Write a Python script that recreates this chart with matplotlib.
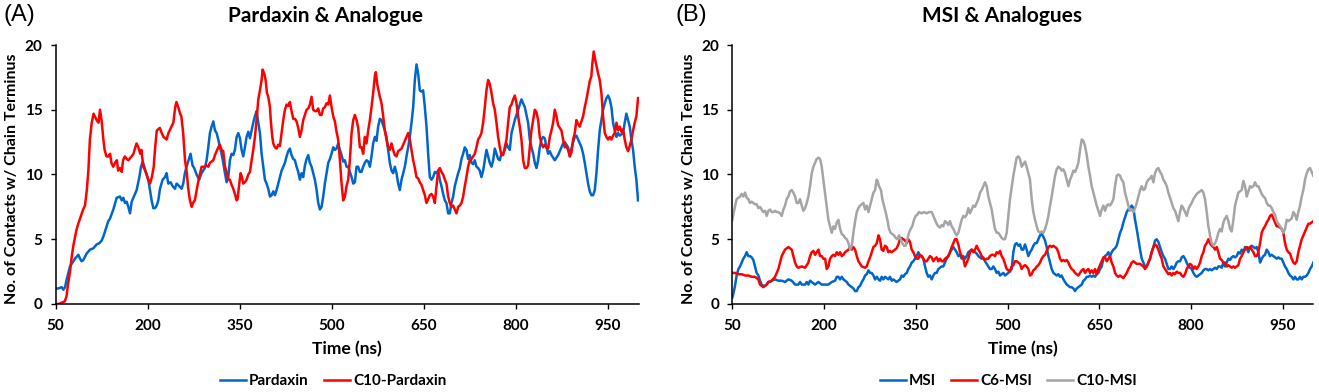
import matplotlib
matplotlib.use("Agg")
import matplotlib.pyplot as plt

plt.rcParams['font.family'] = ['Lato', 'DejaVu Sans']

# (time in ns, number of contacts)
pardaxin = [
    (50, 1.2), (54.6, 1.2), (60, 1.3), (62.8, 1.1), (65.5, 1.3), (68.2, 1.9), (70.9, 2.4), (73.6, 2.9),
    (76.3, 3.1), (81.8, 3.5), (87.2, 3.8), (89.9, 3.5), (92.6, 3.3), (95.3, 3.4), (100.8, 3.9), (106.2, 4.2),
    (111.6, 4.3), (117, 4.6), (121.4, 4.7), (125.2, 4.9), (127.9, 5.2), (130.6, 5.6), (133.3, 6), (136, 6.4),
    (138.8, 6.6), (144.2, 7.3), (149.6, 8.2), (155, 8.3), (157.8, 8), (160.5, 8.2), (163.2, 7.8), (165.9, 7.9),
    (168.6, 7.5), (171.4, 7), (174.1, 7.9), (176.8, 8.2), (182.2, 8.8), (186.6, 9.8), (189.3, 10.6), (192, 11),
    (194.7, 10.6), (197.4, 10.1), (201.2, 9.6), (203.9, 8.8), (206.6, 8), (209.3, 7.4), (212, 7.4), (214.8, 7.6),
    (217.5, 8), (220.2, 8.9), (224.5, 9.6), (228.3, 9.8), (231, 10.1), (233.7, 9.3), (237.5, 9.4), (240.8, 9.1),
    (244.6, 8.9), (247.3, 9.3), (251.6, 9.1), (255.4, 8.9), (258.1, 9.3), (260.8, 10.1), (263.5, 10.6), (267.3, 11.2),
    (270, 11.6), (273.3, 10.7), (276, 10.5), (279.8, 10), (284.1, 9.6), (287.9, 10.1), (293.3, 10.5), (296.2, 11.1),
    (298.9, 12.1), (301.6, 13.2), (304.3, 13.7), (307.1, 14.1), (309.8, 13.4), (312.5, 13.2), (315.2, 12.7), (317.9, 12.1),
    (320.6, 11.6), (323.3, 10.9), (326.1, 10.1), (328.8, 9.4), (331.5, 9.8), (334.2, 11.1), (336.9, 11.6), (339.6, 11.5),
    (342.3, 11.9), (345.1, 12.9), (347.8, 13.2), (350.5, 12.8), (353.2, 11.9), (355.9, 11.4), (358.6, 12.1), (361.3, 12.9),
    (364.1, 13.3), (366.8, 12.8), (369.5, 13.4), (372.2, 14), (374.9, 14.5), (377.6, 14.9), (380.4, 14), (383.1, 13.2),
    (385.8, 11.6), (388.5, 10.6), (391.2, 9.6), (393.9, 9.3), (396.6, 8.9), (399.4, 8.3), (402.1, 8.4), (404.8, 8.7),
    (407.5, 8.4), (410.2, 8.8), (412.9, 9.3), (415.6, 9.8), (418.4, 10.3), (421.1, 10.6), (423.8, 10.9), (426.5, 11.4),
    (429.2, 11.8), (431.9, 12), (434.6, 11.5), (437.4, 11.2), (440.1, 11.1), (442.8, 10.6), (445.5, 10.2), (448.2, 9.6),
    (450.9, 10.1), (453.6, 9.8), (456.4, 10.7), (459.1, 11.2), (461.8, 11.5), (464.5, 10.9), (467.2, 10.6), (469.9, 10.1),
    (472.6, 9.6), (475.4, 8.8), (478.1, 7.8), (480.8, 7.3), (483.5, 7.5), (486.2, 8.3), (488.9, 9.3), (491.6, 10.1),
    (494.4, 10.9), (497.1, 11.2), (499.8, 11.6), (502.5, 12.1), (505.2, 11.9), (507.9, 12), (510.6, 12.4), (513.4, 11.9),
    (516.1, 11.5), (518.8, 11), (521.5, 11.1), (524.2, 10.6), (526.9, 10.6), (529.6, 10.2), (532.4, 9.8), (535.1, 9.3),
    (537.8, 9.4), (540.5, 10.6), (543.2, 10.6), (545.9, 10.2), (548.6, 10.2), (551.3, 10.6), (554, 10.9), (556.7, 11.1),
    (559.5, 11), (562.2, 10.6), (564.9, 11.4), (567.6, 12.4), (570.3, 12.9), (573, 12.6), (575.7, 13.7), (578.5, 14.3),
    (581.2, 14.2), (583.9, 13.8), (586.6, 13.4), (589.3, 12.9), (592, 11.9), (594.7, 10.9), (597.5, 10.3), (600.2, 10.1),
    (602.9, 10.6), (605.6, 10.1), (608.3, 9.3), (611, 8.8), (613.8, 9.6), (616.5, 10.1), (619.2, 10.6), (621.9, 11.4),
    (624.6, 12.1), (627.3, 12.9), (630.1, 14), (632.8, 15.2), (635.5, 17.3), (638.2, 18.5), (640.9, 17.8), (643.6, 16.5),
    (646.3, 16.4), (649, 16.5), (651.8, 15.2), (654.5, 13.7), (657.2, 11.6), (659.9, 9.8), (662.6, 9.6), (665.3, 9.8),
    (668.1, 10.2), (670.8, 10.1), (673.5, 10.3), (676.2, 9.6), (678.9, 9.1), (681.6, 8.5), (684.4, 8), (687, 7.8),
    (689.8, 7), (692.5, 7), (695.2, 7.8), (697.9, 8.3), (700.6, 9.1), (703.3, 9.6), (706.1, 10.1), (708.8, 10.5),
    (711.5, 11.2), (714.2, 11.6), (716.9, 12.1), (719.6, 11.9), (722.3, 11.2), (725, 11.5), (727.8, 10.9), (730.5, 10.8),
    (733.2, 11.1), (735.9, 10.6), (738.6, 10.5), (741.3, 10.3), (744, 9.8), (746.8, 10.3), (749.5, 11.1), (752.2, 11.9),
    (754.9, 11.4), (757.6, 10.9), (760.4, 10.6), (763.1, 11.1), (765.8, 12), (768.5, 11.6), (771.2, 11.2), (773.9, 11.1),
    (776.6, 11.6), (779.3, 11.6), (782.1, 11.9), (784.8, 12.4), (787.5, 12.1), (790.2, 11.9), (793, 13.2), (795.7, 13.7),
    (798.4, 14.2), (801.1, 14.6), (803.8, 15), (806.5, 15.4), (809.2, 15.8), (812, 15.5), (814.7, 15.2), (817.4, 14.6),
    (820.1, 14), (822.8, 12.7), (825.5, 12.1), (828.3, 11.6), (831, 10.9), (833.7, 10.5), (836.4, 11.1), (839.1, 12.1),
    (841.8, 12.7), (844.5, 12.9), (847.2, 12.8), (850, 12.1), (852.7, 11.6), (855.4, 11.8), (858.1, 11.5), (860.8, 11.3),
    (863.5, 11.1), (866.3, 11.3), (869, 11.5), (871.7, 11.8), (874.4, 12.1), (877.1, 12.4), (879.8, 12.5), (882.5, 12.3),
    (885.2, 12.1), (888, 11.4), (890.7, 12), (893.4, 12.5), (896.1, 12.9), (898.8, 13), (901.5, 12.7), (904.2, 12.4),
    (907, 12.1), (909.7, 11.6), (912.4, 10.9), (915.1, 10.1), (917.8, 9.3), (920.5, 8.7), (923.2, 8.4), (926, 8.4),
    (928.7, 8.8), (931.4, 10.1), (934.1, 11.9), (936.8, 13.4), (939.5, 14.2), (942.2, 15), (945, 15.5), (947.7, 15.9),
    (950.4, 16.1), (953.1, 15.8), (955.8, 15.2), (958.5, 14), (961.2, 13.4), (964, 12.9), (966.7, 13.2), (969.4, 13),
    (972.1, 13.1), (974.8, 13.2), (977.5, 14), (980.2, 14.7), (983, 14.2), (985.7, 13.7), (988.4, 12.7), (991.1, 11.9),
    (993.8, 10.6), (996.5, 9.6), (999.2, 8),
]

c10_pardaxin = [
    (50, 0), (55, 0), (60, 0.1), (65, 0.2), (68, 0.6), (70, 1.4), (73.6, 2.5), (76, 3.5), (79, 4.5), (84, 5.7),
    (87, 6.2), (90, 6.6), (95, 7.3), (98, 7.6), (101, 8.8), (103.5, 10.3), (106, 12.7), (109, 14), (112, 14.7),
    (114, 14.5), (117, 14.2), (120, 14), (122.5, 15), (125, 14.2), (128, 12.7), (130, 11.9), (133, 11.4), (136, 11.4),
    (139, 11.6), (141, 10.9), (144, 10.6), (147, 10.9), (150, 11.1), (152, 10.3), (155, 10.5), (158, 10.2), (160, 11.1),
    (163, 11.4), (166, 11.2), (169, 11.1), (172, 11.3), (174, 11.4), (177, 11.6), (180, 12.1), (182, 12.4), (185, 12.1),
    (188, 11.6), (190, 11.9), (193, 10.6), (198, 10.1), (201, 9.6), (204, 9.3), (207, 9.8), (210, 10.6), (212, 11.9),
    (215, 13.4), (220, 13.6), (223, 13.2), (226, 12.9), (231, 12.7), (234, 13.2), (236, 13.4), (239, 13.7), (242, 14),
    (245, 15.2), (247, 15.6), (250, 15.2), (253, 14.7), (255, 14.5), (258, 13.2), (261, 11.1), (264, 10.1), (266, 9),
    (269, 8), (272, 7.5), (274, 7.8), (277, 8), (280, 8.8), (284, 9.8), (288, 10.6), (293, 10.6), (296.2, 10.7),
    (298.9, 10.6), (301.6, 10.9), (304.3, 11), (307.1, 11.1), (309.8, 11.5), (312.5, 11.8), (315.2, 12.1), (317.9, 12.3),
    (320.6, 11.9), (323.3, 11.8), (326.1, 10.6), (328.8, 10.2), (331.5, 9.6), (334.2, 9.6), (336.9, 9.2), (339.6, 8.9),
    (342.3, 8.5), (345.1, 8), (346.7, 8.1), (348.9, 9.1), (351.6, 10.1), (353.2, 9.9), (355.9, 9.3), (358.6, 9.4),
    (361.3, 9.6), (364.1, 10), (366.8, 10.2), (369.5, 11.1), (372.2, 11.9), (374.9, 12.9), (377.6, 14.2), (380.4, 15.8),
    (383.1, 16.5), (385.8, 17.3), (387.4, 18.1), (390.1, 17.8), (392.3, 17.3), (394.5, 16.3), (396.6, 16), (399.4, 15.2),
    (401, 14), (403.2, 12.9), (404.8, 12.4), (407.5, 12.1), (410.2, 12), (412.9, 12.3), (415.6, 12.2), (418.4, 13.2),
    (421.1, 14.2), (423.8, 15), (426.5, 15.4), (429.2, 15.3), (431.9, 15.6), (434.6, 14.9), (437.4, 14.3), (440.1, 14.3),
    (442.8, 14.1), (445.5, 13.6), (448.2, 12.9), (450.9, 13.4), (453.6, 14.2), (456.4, 14.6), (459.1, 15), (461.8, 15.1),
    (464.5, 15.4), (467.2, 16), (469.9, 15), (472.6, 14.9), (475.4, 14.9), (478.1, 15.1), (480.8, 14.6), (483.5, 14.6),
    (486.2, 15.1), (488.9, 15.2), (491.6, 15.5), (494.4, 15.4), (497.1, 16.1), (499.8, 15.2), (502.5, 14.5), (505.2, 14.1),
    (507.9, 13.3), (510.6, 12.7), (513.4, 11.1), (516.1, 9.3), (518.8, 8), (521.5, 8.3), (524.2, 9.1), (526.9, 9.6),
    (529.6, 11.1), (532.4, 13.2), (535.1, 14.2), (537.8, 14.6), (540.5, 14.2), (543.2, 13.6), (545.9, 12.1), (548.6, 12.1),
    (551.3, 11.6), (554, 12.9), (556.7, 12.4), (559.5, 13.4), (562.2, 14.2), (564.9, 15.2), (567.6, 16.3), (570.3, 17.6),
    (572, 17.9), (574.1, 17), (576.3, 16.5), (578.5, 16), (581.2, 15.5), (583.9, 14.5), (586.6, 13.4), (589.3, 12.7),
    (592, 12.1), (594.7, 11.9), (597.5, 12.4), (600.2, 11.9), (602.9, 11.5), (605.6, 11.4), (608.3, 11.8), (611, 11.9),
    (613.8, 12), (616.5, 12.3), (619.2, 12.6), (621.9, 12.9), (624.6, 13.2), (627.3, 12.7), (630.1, 11.9), (632.8, 11.1),
    (635.5, 10.5), (638.2, 9.8), (640.9, 9.7), (643.6, 9.4), (646.3, 9.2), (649, 8.8), (651.8, 8.4), (654.5, 7.8),
    (657.2, 8.1), (659.9, 8.4), (662.6, 8.5), (665.3, 8.3), (668.1, 7.8), (670.8, 9.1), (673.5, 10.3), (676.2, 10.5),
    (678.9, 10.2), (681.6, 10), (684.4, 9.6), (687, 9.3), (689.8, 8.3), (692.5, 7.8), (695.2, 7.5), (697.9, 7.6),
    (700.6, 7.3), (703.3, 7), (706.1, 7.5), (708.8, 7.6), (711.5, 7.8), (714.2, 8.3), (716.9, 9.1), (719.6, 9.8),
    (722.3, 10.6), (725, 11.1), (727.8, 11.2), (730.5, 11.4), (733.2, 11.6), (735.9, 12.1), (738.6, 12.7), (741.3, 12.9),
    (744, 13.2), (746.8, 14), (749.5, 15.2), (752.2, 16.5), (754.9, 17.3), (757.6, 17), (760.4, 16.3), (763.1, 15.5),
    (765.8, 15), (768.5, 14), (771.2, 12.9), (774, 12.1), (776.6, 11.5), (779.3, 11.5), (782.1, 12.1), (784.8, 12.7),
    (787.5, 14), (790.2, 15.2), (793, 15.4), (795.7, 15.8), (798.4, 16.1), (801.1, 15.5), (803.8, 14.5), (806.5, 13.7),
    (809.2, 12.7), (812, 11.1), (814.7, 10.5), (817.4, 10.5), (820.1, 10.7), (822.8, 12.1), (825.5, 13.4), (828.3, 14.2),
    (831, 15), (833.7, 14.8), (836.4, 14.2), (839.1, 12.9), (841.8, 12.4), (844.5, 12.1), (847.2, 12.3), (850, 12.1),
    (852.7, 12), (855.4, 12.9), (858.1, 13.4), (860.8, 14), (863.5, 15), (866.3, 14.5), (869, 13.8), (871.7, 13.6),
    (874.4, 13.4), (877.1, 12.7), (879.8, 12.1), (882.5, 12.2), (885.2, 11.9), (888, 11.4), (890.7, 11.7), (893.4, 12.7),
    (896.1, 13.2), (898.8, 14.2), (901.5, 13.9), (904.2, 13.7), (907, 14.1), (909.7, 14.5), (912.4, 15.2), (915.1, 15.8),
    (917.8, 16.5), (920.5, 17.2), (923.2, 17.6), (924.8, 18.6), (927, 19.5), (929.7, 18.8), (931.9, 18.3), (934.1, 17.8),
    (936.8, 17.3), (939.5, 16.3), (942.2, 14.5), (945, 13.2), (947.7, 12.9), (950.4, 12.7), (953.1, 12.9), (955.8, 12.7),
    (958.5, 13), (961.2, 13.2), (964, 14), (966.7, 13.4), (969.4, 13.7), (972.1, 13.3), (974.8, 13.5), (977.5, 12.7),
    (980.2, 12.1), (983, 11.8), (985.7, 12.2), (988.4, 12.7), (991.1, 13.4), (993.8, 14), (996.5, 14.5), (999.2, 15.9),
]

msi = [
    (50, 0.5), (51.7, 0.8), (54.4, 1.4), (57.1, 2.2), (59.9, 2.7), (62.6, 2.9), (65.3, 3.2), (68, 3.5), (70.8, 3.7),
    (73.5, 4), (76.2, 3.7), (78.9, 3.7), (81.7, 3.6), (84.4, 3.4), (87.1, 2.9), (89.8, 2.4), (92.6, 2.2), (95.3, 1.8),
    (98, 1.5), (100.7, 1.4), (103.5, 1.4), (106.2, 1.5), (109, 1.7), (111.7, 1.7), (114.4, 1.8), (119.9, 1.9),
    (125.3, 1.8), (130.8, 1.8), (136.2, 1.7), (138.9, 1.8), (141.7, 1.9), (147.1, 1.8), (152.6, 1.5), (158, 1.5),
    (160.7, 1.7), (163.5, 1.5), (169, 1.5), (171.7, 1.7), (174.4, 1.5), (177.1, 1.8), (179.9, 1.7), (185.3, 1.5),
    (190.8, 1.7), (196.2, 1.5), (201.7, 1.5), (207.1, 1.5), (212.6, 1.7), (218, 1.8), (220.8, 2.1), (223.5, 2.1),
    (226.2, 1.9), (229, 2.1), (231.7, 1.9), (234.4, 1.8), (237.1, 1.7), (239.9, 1.5), (242.6, 1.4), (245.3, 1.3),
    (248, 1.2), (250.8, 1), (253.5, 1), (256.2, 1.3), (258.9, 1.4), (261.7, 1.7), (264.4, 1.9), (267.1, 2.2),
    (269.8, 2.3), (272.6, 2.6), (275.3, 2.4), (278, 2.4), (280.7, 2.2), (283.5, 1.9), (286.2, 2.1), (289, 1.9),
    (291.6, 1.8), (294.2, 2.1), (296.9, 1.9), (299.7, 2.1), (305.1, 1.9), (307.8, 2.1), (310.6, 1.8), (313.3, 1.9),
    (316, 1.8), (318.7, 1.7), (321.5, 1.8), (324.2, 1.9), (326.9, 2.2), (329.6, 2.1), (332.4, 2.3), (335.1, 2.4),
    (337.8, 2.7), (340.5, 2.9), (343.3, 3.2), (346, 3.3), (348.7, 3.5), (351.4, 3.7), (354.2, 4), (356.9, 3.7),
    (359.6, 3.7), (362.3, 3.5), (365.1, 2.9), (367.8, 2.4), (370.5, 2.1), (373.2, 2.2), (376, 1.9), (378.7, 2.2),
    (381.4, 2.4), (384.1, 2.4), (386.9, 2.7), (389.6, 2.8), (392.3, 2.9), (395, 2.9), (397.8, 3.2), (400.5, 3.5),
    (403.2, 3.7), (405.9, 4), (408.7, 4.2), (411.4, 4.4), (414.1, 4.2), (416.8, 4), (419.6, 3.7), (422.3, 3.8),
    (425, 3.5), (427.7, 3.7), (430.5, 3.5), (433.2, 3.7), (435.9, 4), (438.6, 4.1), (441.4, 4.2), (444.1, 4.1),
    (446.8, 4), (449.5, 3.9), (452.3, 3.7), (455, 3.6), (457.7, 3.5), (460.4, 3.6), (463.2, 3.3), (465.9, 3.1),
    (468.6, 2.9), (471.3, 2.7), (474.1, 2.7), (476.8, 2.9), (479.5, 2.7), (482.2, 2.4), (485, 2.5), (487.7, 2.2),
    (490.4, 2.3), (493.1, 2.4), (495.9, 2.2), (498.6, 2.3), (501.3, 2.4), (504, 2.6), (506.8, 2.7), (509.5, 4),
    (512.2, 4.6), (514.9, 4.7), (517.7, 4.5), (520.4, 4.6), (523.1, 4.2), (525.8, 4.2), (528.6, 4.6), (531.3, 4.2),
    (534, 3.7), (536.8, 4), (539.5, 4.2), (542.2, 4.5), (545, 4.7), (547.7, 4.7), (550.4, 5), (553.1, 5.3),
    (555.9, 5.4), (558.6, 5.2), (561.3, 4.9), (564, 4.4), (566.8, 3.7), (569.5, 3.2), (572.2, 2.7), (575, 2.4),
    (577.7, 2.3), (580.4, 2.2), (583.1, 2.3), (585.9, 2.1), (588.6, 2.2), (591.3, 1.9), (594, 1.7), (596.8, 1.5),
    (599.5, 1.4), (602.2, 1.3), (604.9, 1.3), (607.7, 1.2), (610.4, 1), (613.1, 1.2), (615.8, 1.3), (618.6, 1.4),
    (621.3, 1.5), (624, 1.8), (626.7, 1.9), (629.5, 2.1), (632.2, 2.1), (634.9, 2.2), (637.6, 2.1), (640.4, 2.2),
    (643.1, 2.1), (645.8, 2.3), (648.5, 2.4), (651.3, 2.7), (654, 2.9), (656.7, 3.5), (659.4, 3.7), (662.2, 3.8),
    (664.9, 4), (667.6, 3.7), (670.3, 4), (673.1, 4.2), (675.8, 4.3), (678.5, 4.5), (681.2, 5), (684, 5.5),
    (686.7, 5.8), (689.4, 6.3), (692.1, 6.7), (694.9, 7.1), (697.6, 7.3), (700.3, 7.4), (703, 7.6), (705.8, 7.4),
    (708.5, 6.5), (711.2, 5.8), (713.9, 5), (716.7, 4.2), (719.4, 3.5), (722.1, 3.2), (724.8, 2.9), (727.6, 2.9),
    (730.3, 3.2), (733, 3.5), (735.7, 4), (738.5, 4.4), (741.2, 4.9), (743.9, 5), (746.6, 4.8), (749.4, 4.4),
    (752.1, 4), (754.8, 3.7), (757.5, 3.5), (760.3, 3.1), (763, 2.7), (765.7, 2.7), (768.4, 2.9), (771.2, 2.7),
    (773.9, 2.9), (776.6, 3.2), (779.3, 3.3), (782.1, 3.3), (784.8, 3.6), (787.5, 3.7), (790.2, 3.5), (793, 3.2),
    (795.7, 2.9), (798.4, 2.8), (801.1, 2.7), (803.9, 2.4), (806.6, 2.2), (809.3, 2.1), (812, 2.2), (814.8, 2.3),
    (817.5, 2.4), (820.2, 2.6), (822.9, 2.7), (825.7, 2.7), (828.4, 2.6), (831.1, 2.7), (833.8, 2.6), (836.6, 2.7),
    (839.3, 2.8), (842, 2.7), (844.7, 2.9), (847.5, 2.9), (850.2, 2.8), (852.9, 3.2), (855.6, 2.9), (858.4, 3.2),
    (861.1, 3.5), (863.8, 3.4), (866.5, 3.6), (869.3, 3.7), (872, 3.6), (874.7, 3.7), (877.4, 4), (880.2, 3.9),
    (882.9, 4.2), (885.6, 4), (888.3, 4.4), (891.1, 4.3), (893.8, 4), (896.5, 4.4), (899.2, 4.5), (902, 4.4),
    (904.7, 4.3), (907.4, 4.4), (910.1, 4), (912.9, 3.2), (915.6, 3.5), (918.3, 3.7), (921, 3.8), (923.8, 4.2),
    (926.5, 4), (929.2, 3.7), (931.9, 3.8), (934.7, 3.7), (937.4, 3.6), (940.1, 3.5), (942.8, 3.6), (945.6, 3.5),
    (948.3, 3.5), (951, 3.2), (953.7, 2.9), (956.5, 2.7), (959.2, 2.4), (961.9, 2.2), (964.6, 2.1), (967.4, 1.9),
    (970.1, 2.1), (972.8, 1.9), (975.5, 1.9), (978.3, 2.1), (981, 1.9), (983.7, 2.1), (986.4, 2.1), (989.2, 2.2),
    (991.9, 2.4), (994.6, 2.7), (997.3, 2.9), (1000, 3.2),
]

c6_msi = [
    (50, 2.4), (54.4, 2.4), (59.9, 2.3), (65.3, 2.3), (70.8, 2.2), (76.2, 2.2), (81.7, 2.1), (87.1, 2.1), (92.6, 1.9),
    (95.3, 1.5), (98, 1.4), (100.7, 1.3), (103.5, 1.4), (106.2, 1.5), (109, 1.7), (114.4, 1.8), (119.9, 2.1),
    (125.3, 2.7), (130.8, 3.7), (136.2, 4.2), (141.7, 4.4), (147.1, 4.2), (149.8, 3.7), (152.6, 3.2), (155.3, 2.9),
    (158, 2.8), (163.5, 2.9), (169, 2.8), (171.7, 3), (174.4, 3.2), (177.1, 3.7), (179.9, 4), (182.6, 4.1),
    (185.3, 3.8), (188, 4), (190.8, 4.2), (193.5, 3.7), (196.2, 3.7), (198.9, 3.5), (201.7, 3.5), (204.4, 2.7),
    (207.1, 2.9), (209.8, 3.5), (212.6, 3.7), (215.3, 3.8), (218, 3.7), (220.8, 4), (223.5, 3.8), (226.2, 4),
    (229, 3.7), (231.7, 3.8), (234.4, 4), (237.1, 4.1), (239.9, 4.2), (242.6, 4.4), (245.3, 4.2), (248, 4.4),
    (250.8, 4.2), (253.5, 3.7), (256.2, 3.3), (261.7, 2.9), (267.1, 2.8), (269.8, 2.9), (272.6, 3.3), (275.3, 3.6),
    (278, 4), (280.7, 4.4), (283.5, 4.5), (286.2, 4.7), (289, 5.3), (291.5, 5), (294.2, 4.2), (296.9, 4.1),
    (299.7, 4.5), (302.4, 4.4), (305.1, 4), (307.8, 4.1), (310.6, 4), (313.3, 4.1), (316, 4.2), (318.7, 4.3),
    (321.5, 4.6), (324.2, 5), (326.9, 5.1), (329.6, 5), (332.4, 4.9), (335.1, 4.7), (337.8, 5), (340.5, 4.8),
    (343.3, 4.2), (346, 4), (348.7, 3.7), (351.4, 3.5), (354.2, 3.5), (356.9, 3.8), (359.6, 3.7), (362.3, 3.5),
    (365.1, 3.3), (367.8, 3.3), (370.5, 3.5), (373.2, 3.7), (376, 3.6), (378.7, 3.3), (381.4, 3.5), (384.1, 3.6),
    (386.9, 3.3), (389.6, 3.5), (392.3, 3.3), (395, 3.3), (397.8, 3.5), (400.5, 3.6), (403.2, 3.7), (405.9, 4),
    (408.7, 4.4), (411.4, 4.7), (414.1, 5), (416.8, 5), (419.6, 4.6), (422.3, 4), (425, 3.7), (427.7, 3.5),
    (430.5, 2.9), (433.2, 3.2), (435.9, 3.5), (438.6, 4), (441.4, 4.2), (444.1, 4), (446.8, 4.2), (449.5, 4.5),
    (452.3, 4.2), (455, 4), (457.7, 3.7), (460.4, 3.5), (463.2, 3.4), (465.9, 3.5), (468.6, 3.5), (471.3, 3.7),
    (474.1, 3.8), (476.8, 3.8), (479.5, 3.7), (482.2, 4), (485, 3.9), (487.7, 4.1), (490.4, 3.7), (493.1, 3.5),
    (495.9, 3.1), (498.6, 2.7), (501.3, 2.6), (504, 2.5), (506.8, 2.9), (509.5, 3), (512.2, 3.3), (514.9, 3.3),
    (517.7, 3.2), (520.4, 3.1), (523.1, 2.7), (525.8, 2.9), (528.6, 3), (531.3, 2.9), (534, 2.7), (536.8, 2.2),
    (539.5, 2.3), (542.2, 2.6), (545, 2.7), (547.7, 2.9), (550.4, 3), (553.1, 3.2), (555.9, 3.5), (558.6, 3.7),
    (561.3, 3.8), (564, 4.1), (566.8, 4.4), (569.5, 4.5), (572.2, 4.4), (575, 4.5), (577.7, 4.4), (580.4, 4.3),
    (583.1, 4), (585.9, 3.5), (588.6, 3.3), (591.3, 3.4), (594, 3.3), (596.8, 3.4), (599.5, 3.2), (602.2, 2.9),
    (604.9, 2.7), (607.7, 2.6), (610.4, 2.4), (613.1, 2.3), (615.8, 2.2), (618.6, 2.4), (621.3, 2.6), (624, 2.7),
    (626.7, 2.4), (629.5, 2.6), (632.2, 2.7), (634.9, 2.4), (637.6, 2.6), (640.4, 2.4), (643.1, 2.7), (645.8, 2.3),
    (648.5, 2.7), (651.3, 3), (654, 3.3), (656.7, 3.6), (659.4, 3.6), (662.2, 3.3), (664.9, 3.5), (667.6, 3.7),
    (670.3, 3.2), (673.1, 2.9), (675.8, 2.4), (678.5, 2.2), (681.2, 2.1), (684, 2.2), (686.7, 2.1), (689.4, 2),
    (692.1, 2.2), (694.9, 2.4), (697.6, 2.7), (700.3, 2.9), (703, 3.2), (705.8, 3.3), (708.5, 3.2), (711.2, 3.1),
    (713.9, 3.1), (716.7, 3.1), (719.4, 3), (722.1, 2.9), (724.8, 2.7), (727.6, 2.9), (730.3, 3.2), (733, 3.5),
    (735.7, 4), (738.5, 4.4), (741.2, 4.6), (743.9, 4.5), (746.6, 4.2), (749.4, 3.8), (752.1, 3.5), (754.8, 2.9),
    (757.5, 2.7), (760.3, 2.5), (763, 2.3), (765.7, 2.4), (768.4, 2.2), (771.2, 2.4), (773.9, 2.3), (776.6, 2.5),
    (779.3, 2.4), (782.1, 2.4), (784.8, 2.2), (787.5, 2.1), (790.2, 2.3), (793, 2.7), (795.7, 2.9), (798.4, 3.1),
    (801.1, 3), (803.9, 2.7), (806.6, 2.9), (809.3, 2.7), (812, 2.9), (814.8, 3.2), (817.5, 3.7), (820.2, 4),
    (822.9, 4.5), (825.7, 4.7), (828.4, 5), (831.1, 4.7), (833.8, 4.5), (836.6, 4.4), (839.3, 4.2), (842, 4.4),
    (844.7, 4), (847.5, 3.5), (850.2, 3.4), (852.9, 3.2), (855.6, 3.2), (858.4, 2.9), (861.1, 3), (863.8, 2.9),
    (866.5, 2.8), (869.3, 2.9), (872, 2.8), (874.7, 2.9), (877.4, 3), (880.2, 3.5), (882.9, 3.7), (885.6, 4),
    (888.3, 4.2), (891.1, 4.4), (893.8, 4.3), (896.5, 4.4), (899.2, 4.2), (902, 4), (904.7, 3.7), (907.4, 3.7),
    (910.1, 4), (912.9, 4.7), (915.6, 5.5), (918.3, 5.8), (921, 6), (923.8, 6.3), (926.5, 6.5), (929.2, 6.8),
    (931.9, 6.9), (934.7, 6.6), (937.4, 6.3), (940.1, 6), (942.8, 6), (945.6, 5.9), (948.3, 5.8), (951, 5.5),
    (953.7, 4.7), (956.5, 4.2), (959.2, 4), (961.9, 3.9), (964.6, 3.5), (967.4, 3.2), (970.1, 3.1), (972.8, 3.3),
    (975.5, 4), (978.3, 4.5), (981, 5), (983.7, 5.3), (986.4, 5.6), (989.2, 5.9), (991.9, 6.2), (994.6, 6.2),
    (997.3, 6.3), (1000, 6.4),
]

c10_msi = [
    (50, 6.5), (53.3, 7.3), (57.1, 8.1), (59.9, 8.2), (62.6, 8.3), (65.3, 8.5), (68, 8.3), (70.8, 8.6), (73.5, 8.2),
    (76.2, 8.1), (78.9, 7.8), (81.7, 7.9), (84.4, 7.8), (87.1, 7.7), (89.8, 7.7), (92.6, 7.4), (95.3, 7.5), (98, 7.3),
    (100.7, 7.1), (103.5, 7.2), (106.2, 6.8), (109, 7.2), (111.7, 7.3), (114.4, 7.1), (117.1, 7.1), (119.9, 7.2),
    (122.6, 7.1), (125.3, 7.1), (128, 7), (130.8, 6.8), (133.5, 7.3), (136.2, 7.6), (138.9, 8.1), (141.7, 8.3),
    (144.4, 8.7), (147.1, 8.8), (149.8, 8.6), (152.6, 8.3), (155.3, 7.8), (158, 7.8), (160.7, 8.1), (163.5, 7.6),
    (166.2, 7.2), (169, 7.4), (171.7, 7.8), (174.4, 8.3), (177.1, 9.1), (179.9, 10.1), (182.6, 10.6), (185.3, 10.9),
    (188, 11.2), (190.8, 11.3), (193.5, 11.2), (196.2, 10.6), (198.9, 9.6), (201.7, 8.6), (204.4, 7.6), (207.1, 6.5),
    (209.8, 6), (212.6, 5.5), (215.3, 6), (218, 5.8), (220.8, 6.3), (223.5, 6.5), (226.2, 5.8), (229, 5.4),
    (231.7, 5.3), (234.4, 5.1), (237.1, 5), (239.9, 4.7), (242.6, 4.2), (245.3, 4.5), (248, 5.5), (250.8, 6.4),
    (253.5, 7.1), (256.2, 7.4), (258.9, 7.6), (261.7, 7.7), (264.4, 7.8), (267.1, 7.3), (269.8, 7.6), (272.6, 7.1),
    (275.3, 7.6), (278, 8.1), (280.7, 8.6), (283.5, 8.8), (286, 9.6), (287.6, 9.5), (289.8, 9.1), (293.1, 8.8),
    (295.3, 8.1), (298, 7.6), (300.7, 7.1), (303.5, 6.5), (306.2, 5.8), (308.9, 5.5), (311.6, 5.4), (314.4, 5.3),
    (317.1, 5.1), (319.8, 5), (322.5, 5.3), (325.3, 5), (328, 4.7), (330.7, 4.5), (333.4, 4.5), (336.2, 5),
    (338.9, 5.5), (341.6, 5.8), (344.3, 6), (347.1, 6.5), (349.8, 6.8), (352.5, 6.9), (355.2, 7.1), (359.6, 7),
    (363.4, 7.1), (367.8, 7), (371.6, 7.1), (376, 7.1), (378.7, 6.8), (381.4, 6.5), (384.1, 6.2), (386.9, 6),
    (389.6, 5.9), (392.3, 6.1), (395, 6), (397.8, 6.4), (400.5, 6.3), (403.2, 6.1), (405.9, 6.4), (408.7, 6),
    (411.4, 5.8), (414.1, 5.5), (416.8, 5.3), (419.6, 5.5), (422.3, 6), (425, 6.5), (427.7, 6.8), (430.5, 6.7),
    (433.2, 6.9), (435.9, 7.4), (438.6, 7), (441.4, 7.3), (444.1, 7.6), (446.8, 7.5), (449.5, 7.8), (452.3, 8.1),
    (455, 8.6), (457.7, 8.8), (460.4, 9.1), (463.2, 9.4), (465.9, 9.1), (468.6, 8.3), (471.3, 7.8), (474.1, 7.3),
    (476.8, 6.5), (479.5, 5.8), (482.2, 5.5), (485, 5.5), (487.7, 5.3), (490.4, 5.1), (493.1, 5), (495.9, 5),
    (498.6, 5.5), (501.3, 6.8), (504, 8.1), (506.8, 9), (509.5, 9.9), (512.2, 10.6), (514.9, 11.3), (517.7, 11.4),
    (520.4, 11.2), (523.1, 10.6), (525.8, 10.8), (528.6, 11), (531.3, 10.6), (534, 10.1), (536.7, 9.6), (539.5, 8.1),
    (542.2, 7.1), (545, 6.5), (547.7, 6), (550.4, 5.6), (553.1, 5.5), (555.9, 5.6), (558.6, 5.5), (561.3, 5.8),
    (564, 6.2), (566.8, 6.8), (569.5, 7.6), (572.2, 8.3), (575, 9.1), (577.7, 9.9), (580.4, 10.4), (583.1, 10.6),
    (585.9, 10.5), (588.6, 10.3), (591.3, 10.4), (594, 10.1), (596.8, 9.6), (599.5, 9.1), (602.2, 9.6), (604.9, 9.9),
    (607.7, 10.3), (610.4, 10.2), (613.1, 10.5), (615.8, 10.9), (618.6, 11.9), (621.3, 12.7), (624, 12.6), (626.7, 12.2),
    (629.5, 11.5), (632.2, 10.6), (634.9, 9.9), (637.6, 9.1), (640.4, 8.6), (643.1, 8.1), (645.8, 7.6), (648.5, 7.2),
    (651.3, 6.8), (654, 7.3), (656.7, 7.6), (659.4, 7.2), (662.2, 7.6), (664.9, 7.7), (667.6, 7.6), (670.3, 7.8),
    (673.1, 8.1), (675.8, 9.1), (678.5, 9.9), (681.2, 10), (684, 9.9), (686.7, 9.6), (689.4, 9.4), (692.1, 8.6),
    (694.9, 8.1), (697.6, 7.6), (700.3, 7.2), (703, 7.3), (705.8, 7.1), (708.5, 7.4), (711.2, 7.8), (713.9, 8.3),
    (716.7, 8.8), (719.4, 9.1), (722.1, 8.8), (724.8, 8.9), (727.6, 9.4), (730.3, 9.6), (733, 9.7), (735.7, 9.9),
    (738.5, 9.4), (741.2, 10.1), (743.9, 10.4), (746.6, 10.5), (749.4, 10.2), (752.1, 10), (754.8, 9.6), (757.5, 9.4),
    (760.3, 9.1), (763, 8.6), (765.7, 8.2), (768.4, 7.8), (771.2, 7.4), (773.9, 7.2), (776.6, 6.8), (779.3, 6.4),
    (782.1, 7.1), (784.8, 7.6), (787.5, 7.4), (790.2, 7.1), (793, 6.8), (795.7, 7.3), (798.4, 7.6), (801.1, 7.8),
    (803.9, 8.1), (806.6, 8.3), (809.3, 8.5), (812, 8.6), (814.8, 8.7), (817.5, 8.8), (820.2, 8.6), (822.9, 8.1),
    (825.7, 7.1), (828.4, 6), (831.1, 5.3), (833.8, 4.7), (836.6, 4.5), (839.3, 4.7), (842, 5), (844.7, 5.5),
    (847.5, 5.8), (850.2, 5.6), (852.9, 6.3), (855.6, 6.6), (858.4, 6.8), (861.1, 6.4), (863.8, 5.8), (866.5, 5.6),
    (869.3, 6.5), (872, 7.6), (874.7, 8.1), (877.4, 8.6), (880.2, 8.7), (882.9, 8.8), (885.6, 9.5), (888.3, 9.1),
    (891.1, 8.3), (893.8, 8.7), (896.5, 9.1), (899.2, 9), (902, 9.1), (904.7, 9.4), (907.4, 9.1), (910.1, 9.1),
    (912.9, 8.8), (915.6, 8.5), (918.3, 8.3), (921, 8.2), (923.8, 7.8), (926.5, 7.6), (929.2, 7.6), (931.9, 7.4),
    (934.7, 7.1), (937.4, 6.9), (940.1, 6.4), (942.8, 6.2), (945.6, 6), (948.3, 5.8), (951, 5.5), (953.7, 5.8),
    (956.5, 6.5), (959.2, 6.4), (961.9, 6.5), (964.6, 6.6), (967.4, 7.1), (970.1, 6.9), (972.8, 6.5), (975.5, 7.1),
    (978.3, 7.6), (981, 8.3), (983.7, 8.8), (986.4, 9.6), (989.2, 10.1), (991.9, 10.4), (994.6, 10.5), (997.3, 10.2),
    (1000, 9.9),
]

x_ticks = [50, 200, 350, 500, 650, 800, 950]
y_ticks = [0, 5, 10, 15, 20]

BLUE = '#0066CC'
RED = '#FF0000'
GRAY = '#A5A5A5'

fig = plt.figure(figsize=(13.19, 3.92), dpi=100)
ax_a = fig.add_axes([0.0421, 0.2245, 0.442, 0.6607])
ax_b = fig.add_axes([0.5552, 0.2245, 0.4405, 0.6607])

panels = [
    (ax_a, [(pardaxin, BLUE, 'Pardaxin'), (c10_pardaxin, RED, 'C10-Pardaxin')], 0.476),
    (ax_b, [(msi, BLUE, 'MSI'), (c6_msi, RED, 'C6-MSI'), (c10_msi, GRAY, 'C10-MSI')], 0.475),
]

for ax, series, leg_x in panels:
    for data, color, label in series:
        t, y = zip(*data)
        ax.plot(t, y, color=color, lw=1.8, label=label)
    ax.set_xlim(50, 1000)
    ax.set_ylim(0, 20)
    ax.set_xticks(x_ticks)
    ax.set_yticks(y_ticks)
    for side in ['top', 'right']:
        ax.spines[side].set_visible(False)
    for side in ['left', 'bottom']:
        ax.spines[side].set_linewidth(1.1)
    ax.tick_params(axis='both', direction='out', length=3.5, width=1.0, labelsize=11)
    ax.tick_params(axis='x', pad=7)
    ax.tick_params(axis='y', pad=6)
    for lbl in ax.get_xticklabels() + ax.get_yticklabels():
        lbl.set_fontweight('bold')
    ax.set_xlabel('Time (ns)', fontsize=12.5, fontweight='bold', va='center')
    ax.xaxis.set_label_coords(0.5, -0.174)
    ax.set_ylabel('No. of Contacts w/ Chain Terminus', fontsize=11.5, fontweight='bold', va='center')
    ax.yaxis.set_label_coords(-0.075, 0.485)
    ax.legend(loc='center', bbox_to_anchor=(leg_x, -0.297), ncol=len(series), frameon=False,
              handlelength=1.7, handletextpad=0.2, columnspacing=1.0,
              prop={'size': 11, 'weight': 'bold'})

fig.text(0.003, 0.962, '(A)', fontsize=17, va='center', ha='left', family=['Liberation Sans', 'DejaVu Sans'])
fig.text(0.5118, 0.962, '(B)', fontsize=17, va='center', ha='left', family=['Liberation Sans', 'DejaVu Sans'])
fig.text(0.247, 0.959, 'Pardaxin & Analogue', fontsize=15, fontweight='bold', ha='center', va='center')
fig.text(0.760, 0.959, 'MSI & Analogues', fontsize=15, fontweight='bold', ha='center', va='center')

fig.savefig('out.png', dpi=100)
